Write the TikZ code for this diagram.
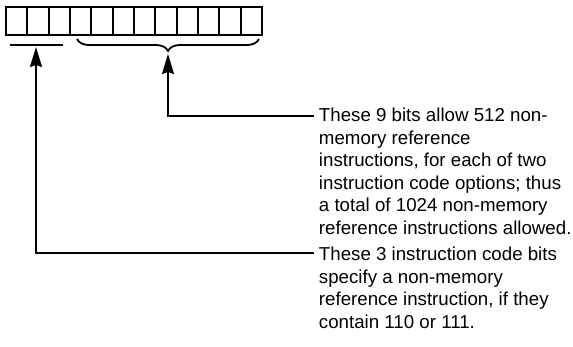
\documentclass[tikz,border=0pt]{standalone}
\usepackage{fontspec}
\setmainfont{Liberation Sans}
\usetikzlibrary{arrows.meta,decorations.pathreplacing}
\begin{document}
\begin{tikzpicture}[x=1pt,y=-1pt,line width=1.9pt,>={Stealth[length=20pt,width=12pt,inset=2pt]},
	cell/.style={draw,minimum width=21.33pt,minimum height=28pt,inner sep=0pt,outer sep=0pt,anchor=north west},
	note/.style={align=left,inner sep=0pt,anchor=north west,font=\fontsize{18.7}{22.6}\selectfont}]
	\useasboundingbox (0,0) rectangle (573,346);
	% the 12 bit cells
	\foreach \i in {1,...,12}
		\node[cell] (c\i) at ({6+(\i-1)*21.33},7) {};
	% 3 instruction code bits
	\coordinate (bar3l) at (10,45);
	\coordinate (bar3r) at (63,45);
	\coordinate (tip3) at (36,47);
	\draw (bar3l) -- (bar3r);
	% 9 bits
	\coordinate (br9l) at (77,39);
	\coordinate (br9r) at (259,39);
	\coordinate (tip9) at (168,54);
	\draw[line width=1.8pt,decorate,decoration={brace,mirror,amplitude=12pt}] (br9l) -- (br9r);
	% notes
	\node[note] (t9) at (318,107) {These 9 bits allow 512 non-\\memory reference\\instructions, for each of two\\instruction code options; thus\\a total of 1024 non-memory\\reference instructions allowed.};
	\node[note] (t3) at (318,246) {These 3 instruction code bits\\specify a non-memory\\reference instruction, if they\\contain 110 or 111.};
	\coordinate (e9) at (314,116);
	\coordinate (e3) at (314,253);
	\draw[->] (e9) -| (tip9);
	\draw[->] (e3) -| (tip3);
\end{tikzpicture}
\end{document}
